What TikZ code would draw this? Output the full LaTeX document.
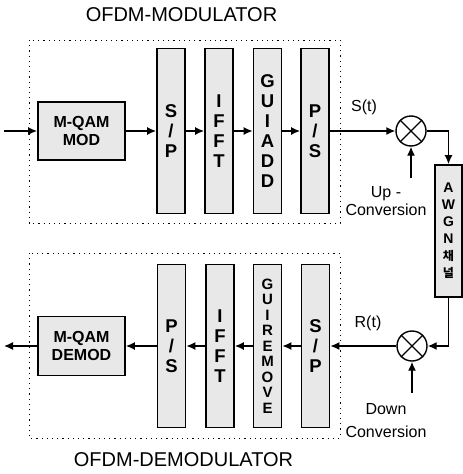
\documentclass[tikz,border=0pt]{standalone}
\usepackage{fontspec}
\setmainfont{Liberation Sans}
\newfontfamily\krfont{Noto Sans CJK KR}
\usetikzlibrary{arrows.meta}
\begin{document}
\begin{tikzpicture}[x=1pt,y=-1pt,
  blk/.style={draw, line width=1.7pt, fill=black!9, inner sep=0pt},
  vblk/.style={blk, minimum width=28pt, font=\bfseries\fontsize{18.5}{20}\selectfont, align=center},
  qblk/.style={blk, minimum width=87pt, minimum height=58pt, font=\bfseries\fontsize{16}{18}\selectfont, align=center},
  sig/.style={line width=1.4pt, -{Latex[length=9pt,width=8pt]}},
  frame/.style={draw, line width=1pt, dash pattern=on 1.2pt off 4pt},
  mixer/.style={draw, circle, line width=1.4pt, minimum size=30pt, inner sep=0pt},
  lbl/.style={font=\fontsize{16}{18}\selectfont, align=center, inner sep=0pt},
  ttl/.style={font=\fontsize{20}{22}\selectfont, inner sep=0pt}]
\useasboundingbox (0,0) rectangle (463,474);

% frames
\draw[frame] (29,40) rectangle (340,223);
\draw[frame] (29,253) rectangle (340,438);
\node[ttl] (t1) at (181.5,15) {OFDM-MODULATOR};
\node[ttl] (t2) at (183.5,460) {OFDM-DEMODULATOR};

% modulator
\node[qblk] (qam) at (81.5,131) {M-QAM\\MOD};
\node[vblk, minimum height=165pt] (sp1) at (171,131) {S\\/\\P};
\node[vblk, minimum height=165pt] (ifft1) at (219,131) {I\\F\\F\\T};
\node[vblk, minimum height=165pt] (gui1) at (267.5,131) {G\\U\\I\\A\\D\\D};
\node[vblk, minimum height=165pt] (ps1) at (315,131) {P\\/\\S};

% mixers and channel
\node[mixer] (mix1) at (411,131) {};
\draw[line width=1.4pt] (mix1.north west) -- (mix1.south east) (mix1.north east) -- (mix1.south west);
\node[mixer] (mix2) at (412,346) {};
\draw[line width=1.4pt] (mix2.north west) -- (mix2.south east) (mix2.north east) -- (mix2.south west);
\node[blk, minimum width=27pt, minimum height=132pt, align=center,
      font=\bfseries\fontsize{14}{17}\selectfont] (awgn) at (448.5,231)
  {A\\W\\G\\N\\{\krfont\fontsize{12}{17}\selectfont 채}\\{\krfont\fontsize{12}{20}\selectfont 널}};

% demodulator
\node[qblk, minimum height=59pt] (dqam) at (81.5,346) {M-QAM\\DEMOD};
\node[vblk, minimum height=163pt] (ps2) at (171.5,346) {P\\/\\S};
\node[vblk, minimum height=163pt] (ifft2) at (220,346) {I\\F\\F\\T};
\node[vblk, minimum height=163pt, font=\bfseries\fontsize{15}{15.5}\selectfont] (gui2) at (267.5,346) {G\\U\\I\\R\\E\\M\\O\\V\\E};
\node[vblk, minimum height=163pt] (sp2) at (315.5,346) {S\\/\\P};

% coordinates for free ends
\coordinate (in) at (4,131);
\coordinate (out) at (4,346);
\coordinate (up) at (411,178);
\coordinate (dn) at (412,393);

% modulator connectors
\draw[sig] (in) -- (qam.west);
\draw[sig] (qam.east) -- (sp1.west);
\draw[sig] (sp1.east) -- (ifft1.west);
\draw[sig] (ifft1.east) -- (gui1.west);
\draw[sig] (gui1.east) -- (ps1.west);
\draw[sig] (ps1.east) -- (mix1.west);
\draw[sig] (mix1.east) -| (awgn.north);
\draw[sig] (up) -- (mix1.south);

% demodulator connectors
\draw[sig] (awgn.south) |- (mix2.east);
\draw[sig] (dn) -- (mix2.south);
\draw[sig] (mix2.west) -- (sp2.east);
\draw[sig] (sp2.west) -- (gui2.east);
\draw[sig] (gui2.west) -- (ifft2.east);
\draw[sig] (ifft2.west) -- (ps2.east);
\draw[sig] (ps2.west) -- (dqam.east);
\draw[sig] (dqam.west) -- (out);

% labels
\node[lbl] (st) at (364,107) {S(t)};
\node[lbl] (rt) at (368,323) {R(t)};
\node[lbl] (upc) at (386,201) {Up -\\Conversion};
\node[lbl, font=\fontsize{16}{23}\selectfont] (dnc) at (386,421) {Down\\Conversion};
\end{tikzpicture}
\end{document}
